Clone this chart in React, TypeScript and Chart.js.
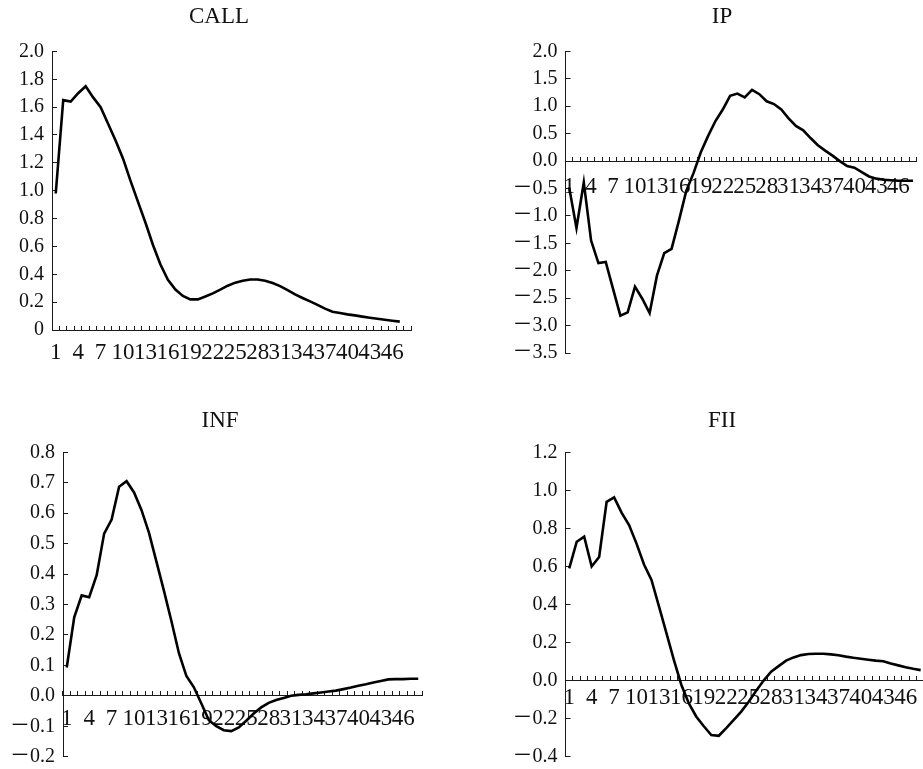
import React, { useEffect, useRef } from 'react';
import { Chart, registerables } from 'chart.js';

Chart.register(...registerables);

// ---------- data ----------
const categories = [
  '1', '2', '3', '4', '5', '6', '7', '8', '9', '10', '11', '12', '13', '14', '15', '16',
  '17', '18', '19', '20', '21', '22', '23', '24', '25', '26', '27', '28', '29', '30', '31', '32',
  '33', '34', '35', '36', '37', '38', '39', '40', '41', '42', '43', '44', '45', '46', '47', '48',
];

const callValues = [
  0.98, 1.65, 1.64, 1.70, 1.75, 1.67, 1.60, 1.48, 1.36, 1.23, 1.07, 0.92,
  0.77, 0.61, 0.47, 0.36, 0.29, 0.245, 0.22, 0.22, 0.24, 0.263, 0.29, 0.318,
  0.34, 0.354, 0.363, 0.363, 0.354, 0.337, 0.315, 0.287, 0.256, 0.23, 0.205, 0.18,
  0.153, 0.131, 0.122, 0.112, 0.105, 0.096, 0.088, 0.081, 0.074, 0.067, 0.06,
];

const ipValues = [
  -0.48, -1.22, -0.39, -1.45, -1.86, -1.84, -2.33, -2.82, -2.76, -2.29, -2.51, -2.77,
  -2.09, -1.68, -1.60, -1.09, -0.55, -0.22, 0.16, 0.46, 0.73, 0.94, 1.19, 1.23,
  1.16, 1.30, 1.22, 1.09, 1.04, 0.94, 0.78, 0.64, 0.56, 0.42, 0.29, 0.19,
  0.10, 0.0, -0.09, -0.12, -0.20, -0.28, -0.32, -0.34, -0.35, -0.36, -0.36, -0.36,
];

const infValues = [
  0.093, 0.258, 0.33, 0.324, 0.396, 0.533, 0.579, 0.687, 0.705, 0.668, 0.61, 0.535,
  0.44, 0.345, 0.245, 0.14, 0.065, 0.028, -0.025, -0.08, -0.10, -0.113, -0.116, -0.104,
  -0.082, -0.058, -0.038, -0.023, -0.014, -0.007, 0.0, 0.003, 0.005, 0.008, 0.011, 0.014,
  0.017, 0.022, 0.027, 0.033, 0.038, 0.044, 0.049, 0.054, 0.055, 0.055, 0.056, 0.056,
];

const fiiValues = [
  0.59, 0.73, 0.757, 0.60, 0.65, 0.94, 0.963, 0.883, 0.818, 0.72, 0.61, 0.529,
  0.39, 0.25, 0.108, -0.023, -0.12, -0.19, -0.24, -0.286, -0.29, -0.25, -0.207, -0.163,
  -0.111, -0.053, 0.0, 0.047, 0.076, 0.105, 0.122, 0.134, 0.14, 0.141, 0.141, 0.138,
  0.133, 0.126, 0.12, 0.115, 0.11, 0.105, 0.102, 0.09, 0.08, 0.07, 0.062, 0.055,
];

// y-axis ranges: [min, max, step]
const callRange = [0, 2.0, 0.2];
const ipRange = [-3.5, 2.0, 0.5];
const infRange = [-0.2, 0.8, 0.1];
const fiiRange = [-0.4, 1.2, 0.2];

const titles = ['CALL', 'IP', 'INF', 'FII'];

// ---------- layout / style ----------
const SERIF = "'Liberation Serif', 'Noto Sans CJK SC', serif";
const AXIS = '#1a1a1a';

type Panel = {
  title: string;
  values: number[];
  range: number[];
  zeroLabel: string;
  box: { left: number; top: number; width: number; height: number };
  pad: { left: number; right: number; top: number; bottom: number };
  yWidth: number;
  titlePad: { top: number; bottom: number };
  xLabelPad: number;
};

const panels: Panel[] = [
  {
    title: titles[0], values: callValues, range: callRange, zeroLabel: '0',
    box: { left: 0, top: 0, width: 461, height: 385 },
    pad: { left: 27, right: 50, top: 0, bottom: 55 },
    yWidth: 25, titlePad: { top: 3.4, bottom: 20.4 }, xLabelPad: 14.5,
  },
  {
    title: titles[1], values: ipValues, range: ipRange, zeroLabel: '0.0',
    box: { left: 461, top: 0, width: 469, height: 385 },
    pad: { left: 58.6, right: 5.6, top: 0, bottom: 32 },
    yWidth: 45.9, titlePad: { top: 3.4, bottom: 20.4 }, xLabelPad: 17,
  },
  {
    title: titles[2], values: infValues, range: infRange, zeroLabel: '0.0',
    box: { left: 0, top: 385, width: 461, height: 397 },
    pad: { left: 18, right: 39, top: 0, bottom: 25.3 },
    yWidth: 45, titlePad: { top: 22.5, bottom: 17.2 }, xLabelPad: 14.2,
  },
  {
    title: titles[3], values: fiiValues, range: fiiRange, zeroLabel: '0.0',
    box: { left: 461, top: 385, width: 469, height: 397 },
    pad: { left: 58.6, right: 5.6, top: 0, bottom: 25.3 },
    yWidth: 45.9, titlePad: { top: 22.5, bottom: 17.2 }, xLabelPad: 8.9,
  },
];

function formatY(v: number, zeroLabel: string): string {
  if (Math.abs(v) < 1e-9) return zeroLabel;
  if (v < 0) return '\uFF0D' + Math.abs(v).toFixed(1);
  return v.toFixed(1);
}

// let the y tick labels extend to the left of the (narrow) y-axis box without being clipped
const unclipYLabels = {
  id: 'unclipYLabels',
  afterLayout(chart: any) {
    const y = chart.scales.y;
    if (y) y.left = 0;
  },
};

function PanelChart({ p }: { p: Panel }) {
  const ref = useRef<HTMLCanvasElement | null>(null);
  useEffect(() => {
    if (!ref.current) return;
    const [min, max, step] = p.range;
    const chart = new Chart(ref.current, {
      type: 'line',
      data: {
        labels: categories,
        datasets: [
          {
            data: p.values,
            borderColor: '#000',
            borderWidth: 2.6,
            pointRadius: 0,
            pointHoverRadius: 0,
            fill: false,
            tension: 0,
          },
        ],
      },
      plugins: [unclipYLabels],
      options: {
        animation: false,
        responsive: false,
        devicePixelRatio: 1,
        events: [],
        layout: { padding: p.pad },
        plugins: {
          legend: { display: false },
          tooltip: { enabled: false },
          title: {
            display: true,
            text: p.title,
            color: '#111',
            font: { family: SERIF, size: 23, weight: 'normal' },
            padding: p.titlePad,
          },
        },
        scales: {
          x: {
            type: 'category',
            position: { y: 0 },
            offset: true,
            grid: {
              offset: true,
              drawOnChartArea: false,
              drawTicks: true,
              tickLength: -5,
              color: AXIS,
              lineWidth: 1,
            },
            border: { display: true, color: AXIS, width: 1 },
            ticks: {
              autoSkip: false,
              maxRotation: 0,
              minRotation: 0,
              padding: p.xLabelPad,
              color: '#111',
              font: { family: SERIF, size: 23 },
              callback: (_v: any, i: number) => (i % 3 === 0 ? categories[i] : ''),
            },
          },
          y: {
            type: 'linear',
            position: 'left',
            min,
            max,
            grid: {
              drawOnChartArea: false,
              drawTicks: true,
              tickLength: -5,
              color: AXIS,
              lineWidth: 1,
            },
            border: { display: true, color: AXIS, width: 1 },
            ticks: {
              stepSize: step,
              padding: 13,
              color: '#111',
              font: { family: SERIF, size: 20 },
              callback: (v: any) => formatY(Number(v), p.zeroLabel),
            },
            afterFit: (scale: any) => {
              scale.width = p.yWidth;
            },
          },
        },
      } as any,
    });
    return () => chart.destroy();
  }, [p]);
  return (
    <canvas
      ref={ref}
      width={p.box.width}
      height={p.box.height}
      style={{
        position: 'absolute',
        left: p.box.left,
        top: p.box.top,
        width: p.box.width,
        height: p.box.height,
      }}
    />
  );
}

export default function App() {
  return (
    <div
      style={{
        position: 'fixed',
        left: 0,
        top: 0,
        width: 923,
        height: 769,
        overflow: 'hidden',
        background: '#fff',
      }}
    >
      {panels.map((p) => (
        <PanelChart key={p.title} p={p} />
      ))}
    </div>
  );
}
